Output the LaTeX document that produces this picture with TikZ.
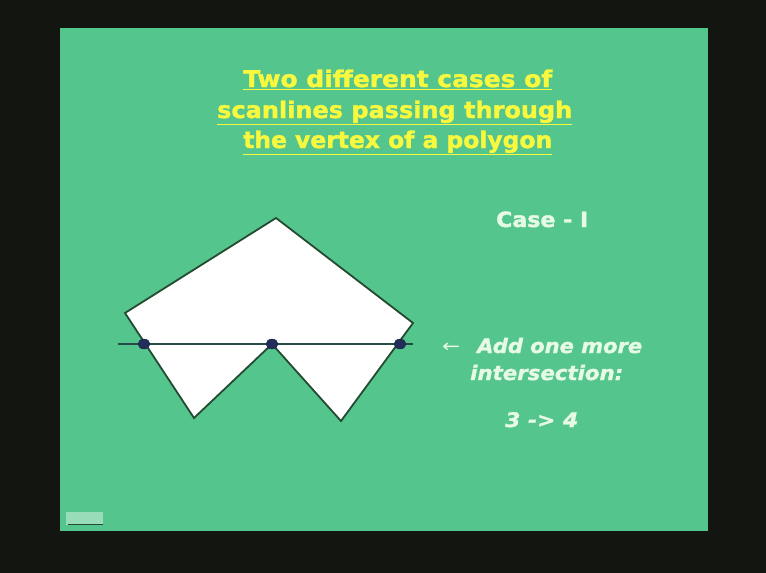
\documentclass[tikz,border=0pt]{standalone}
\usepackage{fontspec}
\usepackage{graphicx}
\setmainfont[BoldFeatures={FakeBold=1.6},BoldItalicFeatures={FakeBold=1.3}]{DejaVu Sans}
\usetikzlibrary{shapes.geometric}
\newcommand{\fitto}[2]{\resizebox{#1}{\height}{#2}}
\begin{document}
\begin{tikzpicture}[x=1pt,y=-1pt,
  title/.style={text=titleyellow,font=\fontsize{23}{30}\selectfont\bfseries,anchor=base west,inner sep=0pt},
  note/.style={text=notewhite,font=\fontsize{20}{24}\selectfont\bfseries\itshape,anchor=base west,inner sep=0pt},
  edge/.style={draw=edgegreen,line width=1.8pt,fill=white,line join=miter},
  scan/.style={draw=scancol,line width=1.8pt},
  hit/.style={ellipse,fill=dotblue,draw=dotblue!70!black,inner sep=0pt,minimum width=12pt,minimum height=10pt}]
\definecolor{bgdark}{RGB}{19,21,16}
\definecolor{slide}{RGB}{84,197,140}
\definecolor{titleyellow}{RGB}{248,248,62}
\definecolor{notewhite}{RGB}{230,250,230}
\definecolor{edgegreen}{RGB}{36,74,50}
\definecolor{scancol}{RGB}{40,74,70}
\definecolor{dotblue}{RGB}{35,45,90}
\useasboundingbox (0,0) rectangle (766,573);
\fill[bgdark] (0,0) rectangle (766,573);
\fill[slide] (60,28) rectangle (708,531);
% small icon bottom-left
\fill[slide!60!white] (66,512) rectangle (103,525);
\draw[edgegreen,line width=0.8pt] (68,524) -- (103,524);
% title
\node[title] (t1) at (243,87) {\fitto{309pt}{\underline{Two different cases of}}};
\node[title] (t2) at (217,118) {\fitto{355pt}{\underline{scanlines passing through}}};
\node[title] (t3) at (243,148) {\fitto{309pt}{\underline{the vertex of a polygon}}};
\node[note,font=\fontsize{21}{24}\selectfont\bfseries] (case) at (496,227) {\fitto{92pt}{Case - I}};
% polygon
\coordinate (A) at (276,218);
\coordinate (R) at (413,323);
\coordinate (BR) at (341,421);
\coordinate (M) at (272,344);
\coordinate (BL) at (194,418);
\coordinate (L) at (125,313);
\draw[edge] (A) -- (R) -- (BR) -- (M) -- (BL) -- (L) -- cycle;
% scanline
\coordinate (s0) at (118,344);
\coordinate (s1) at (413,344);
\draw[scan] (s0) -- (s1);
\node[hit] (h1) at (144,344) {};
\node[hit] (h2) at (272,344) {};
\node[hit] (h3) at (400,344) {};
% notes
\node[note,font=\fontsize{18}{20}\selectfont] (arr) at (442,352) {\fitto{18pt}{←}};
\node[note] (n1) at (477,353) {\fitto{165pt}{Add one more}};
\node[note] (n2) at (470,380) {\fitto{153pt}{intersection:}};
\node[note] (n3) at (505,427) {\fitto{73pt}{3 -> 4}};
\end{tikzpicture}
\end{document}
